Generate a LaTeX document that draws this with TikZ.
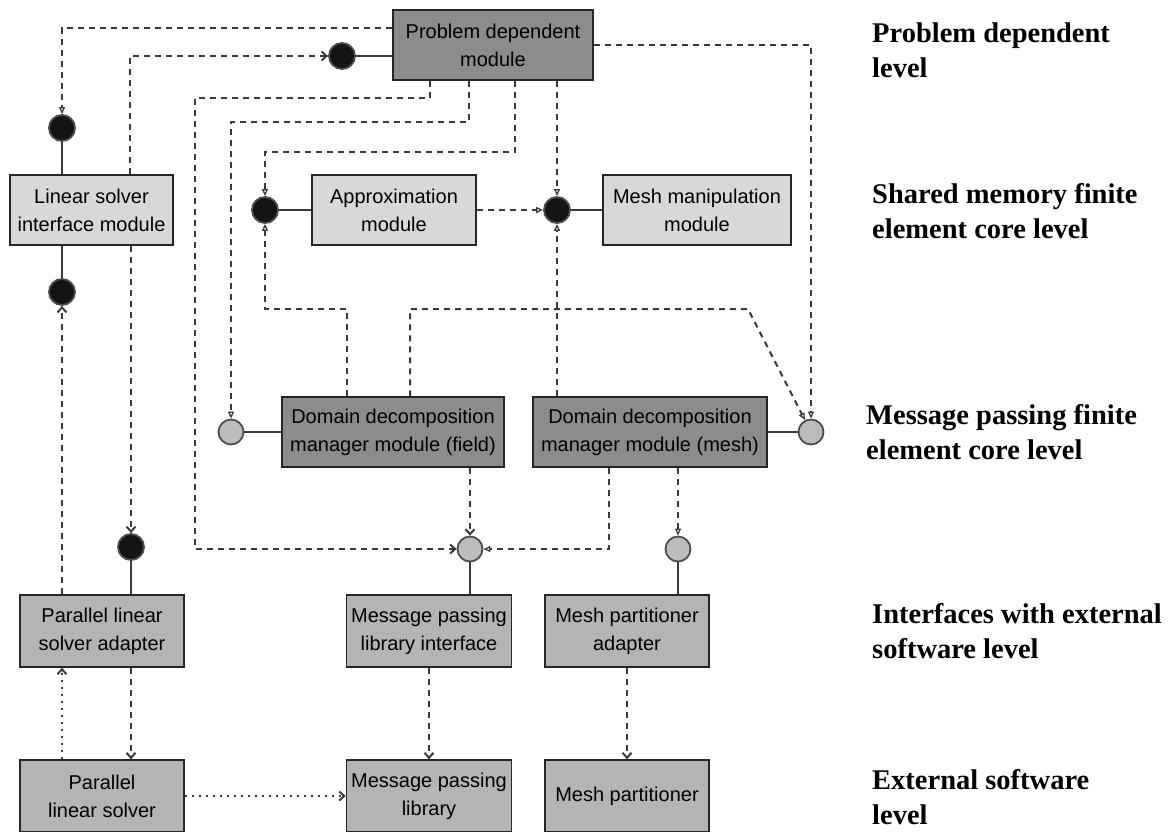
\documentclass[tikz,border=0pt]{standalone}
\usepackage{fontspec}
\setmainfont{Liberation Serif}
\newfontfamily\boxfont{Liberation Sans}
\newfontfamily\labfont{Liberation Serif}
\usetikzlibrary{arrows.meta,calc}
\definecolor{boxdark}{HTML}{8C8C8C}
\definecolor{boxlight}{HTML}{D8D8D8}
\definecolor{boxmid}{HTML}{B4B4B4}
\definecolor{portgray}{HTML}{BCBCBC}
\definecolor{linegray}{HTML}{3A3A3A}
\begin{document}
\begin{tikzpicture}[x=1pt,y=-1pt,
  box/.style={draw=black!85, line width=1.5pt, minimum height=70pt, align=center,
    inner sep=0pt, font={\boxfont\fontsize{20}{28}\selectfont}},
  darkbox/.style={box, fill=boxdark},
  lightbox/.style={box, fill=boxlight},
  midbox/.style={box, fill=boxmid, minimum height=72pt},
  port/.style={circle, line width=1.8pt, minimum size=26pt, inner sep=0pt},
  bport/.style={port, fill=black!92, draw=black!70},
  gport/.style={port, fill=portgray, draw=black!70, minimum size=25pt},
  dl/.style={draw=linegray, line width=2pt, dash pattern=on 6pt off 5pt},
  dt/.style={draw=linegray, line width=2pt, dash pattern=on 2pt off 5pt},
  sl/.style={draw=linegray, line width=1.7pt},
  ba/.style={-{Straight Barb[length=5pt,width=9pt]}},
  ha/.style={-{Triangle[open,length=7pt,width=6pt,line width=1.3pt]}},
  lab/.style={anchor=west, align=left, inner sep=0pt,
    font={\labfont\bfseries\fontsize{28.5}{35}\selectfont}}
]
\useasboundingbox (0,0) rectangle (1171,832);

% boxes
\node[darkbox, minimum width=200pt] (pdm) at (493,45) {Problem dependent\\module};
\node[lightbox, minimum width=163pt] (lsi) at (91.5,210) {Linear solver\\interface module};
\node[lightbox, minimum width=164pt] (apx) at (394,210) {Approximation\\module};
\node[lightbox, minimum width=188pt] (mmm) at (697,210) {Mesh manipulation\\module};
\node[darkbox, minimum width=222pt] (ddf) at (393,432) {Domain decomposition\\manager module (field)};
\node[darkbox, minimum width=234pt] (ddm) at (650,432) {Domain decomposition\\manager module (mesh)};
\node[midbox, minimum width=164pt] (plsa) at (102,631) {Parallel linear\\solver adapter};
\node[midbox, minimum width=165pt] (mpli) at (429,631) {Message passing\\library interface};
\node[midbox, minimum width=164pt] (mpa) at (627,631) {Mesh partitioner\\adapter};
\node[midbox, minimum width=164pt] (pls) at (102,796) {Parallel\\linear solver};
\node[midbox, minimum width=165pt] (mpl) at (429,796) {Message passing\\library};
\node[midbox, minimum width=164pt] (mp) at (627,796) {Mesh partitioner};

% ports
\node[bport] (c1) at (342,56) {};
\node[bport] (c2) at (62,128) {};
\node[bport] (c3) at (62,292) {};
\node[bport] (c4) at (265,210) {};
\node[bport] (c5) at (557,210) {};
\node[bport] (c10) at (131,547) {};
\node[gport] (g1) at (231,432) {};
\node[gport] (g2) at (811,432) {};
\node[gport] (g3) at (470,549) {};
\node[gport] (g4) at (678,549) {};

% solid links from ports to boxes
\draw[sl] (c1) -- (c1 -| pdm.west);
\draw[sl] (c2) -- (c2 |- lsi.north);
\draw[sl] (c3) -- (c3 |- lsi.south);
\draw[sl] (c4) -- (apx);
\draw[sl] (c5) -- (mmm);
\draw[sl] (g1) -- (ddf);
\draw[sl] (g2) -- (ddm);
\draw[sl] (g3) -- (g3 |- mpli.north);
\draw[sl] (g4) -- (g4 |- mpa.north);
\draw[sl] (c10) -- (c10 |- plsa.north);

% bend points
\coordinate (k1) at (62,28);
\coordinate (k2) at (130,56);
\coordinate (k3) at (430,98);
\coordinate (k3b) at (195,549);
\coordinate (k4) at (469,122);
\coordinate (k5) at (515,152);
\coordinate (k9) at (347,309);
\coordinate (k10) at (410,309);
\coordinate (k10b) at (748,309);
\coordinate (k13) at (609,549);

% dashed connectors
\draw[dl,ha] (pdm.west |- k1) -- (k1) -- (c2);
\draw[dl,ba] (lsi.north -| k2) -- (k2) -- (c1);
\draw[dl,ba] (pdm.south -| k3) -- (k3) -| (k3b) -- (g3);
\draw[dl,ha] (pdm.south -| k4) -- (k4) -| (g1);
\draw[dl,ha] (pdm.south -| k5) -- (k5) -| (c4);
\draw[dl,ha] (pdm.south -| c5) -- (c5);
\draw[dl,ha] (pdm.east) -| (g2);
\draw[dl,ha] (apx) -- (c5);
\draw[dl,ha] (ddf.north -| k9) -- (k9) -| (c4);
\draw[dl,ha] (ddf.north -| k10) -- (k10) -- (k10b) -- (g2);
\draw[dl,ha] (ddm.north -| c5) -- (c5);
\draw[dl,ba] (ddf.south -| g3) -- (g3);
\draw[dl,ha] (ddm.south -| k13) -- (k13) -- (g3);
\draw[dl,ha] (ddm.south -| g4) -- (g4);
\draw[dl,ba] (lsi.south -| c10) -- (c10);
\draw[dl,ba] (plsa.north -| c3) -- (c3);
\draw[dl,ba] (plsa.south -| c10) -- (pls.north -| c10);
\draw[dt,ba] (pls.north -| c3) -- (plsa.south -| c3);
\draw[dt,ba] (pls) -- (mpl);
\draw[dl,ba] (mpli) -- (mpl);
\draw[dl,ba] (mpa) -- (mp);

% level labels
\node[lab] (l1) at (872,50) {Problem dependent\\level};
\node[lab] (l2) at (872,211) {Shared memory finite\\element core level};
\node[lab] (l3) at (866,432) {Message passing finite\\element core level};
\node[lab] (l4) at (872,631) {Interfaces with external\\software level};
\node[lab] (l5) at (872,797) {External software\\level};
\end{tikzpicture}
\end{document}
